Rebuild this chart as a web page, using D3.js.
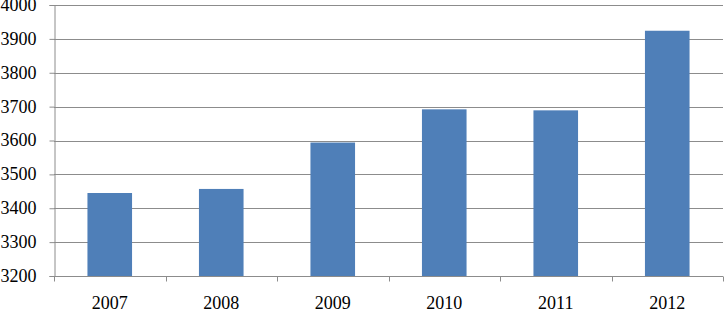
<!DOCTYPE html>
<html><head><meta charset="utf-8">
<script src="https://cdn.jsdelivr.net/npm/d3@7"></script>
<style>body{margin:0;background:#fff}svg{display:block}</style>
</head><body>
<script>
const years = ["2007","2008","2009","2010","2011","2012"];
const values = [3445, 3457, 3594, 3692, 3689, 3924];
const yTicks = [3200,3300,3400,3500,3600,3700,3800,3900,4000];

const W = 725, H = 312;
const m = {left: 54, right: 2, top: 5, bottom: 36};
const svg = d3.select("body").append("svg").attr("width", W).attr("height", H);
const FONT = "'Liberation Serif', 'Times New Roman', serif";

const x = d3.scaleBand().domain(years).range([m.left, W - m.right]).paddingInner(0.6).paddingOuter(0.3);
const y = d3.scaleLinear().domain([3200, 4000]).range([H - m.bottom, m.top]);

// gridlines
svg.append("g").selectAll("line").data(yTicks.slice(1)).join("line")
  .attr("x1", m.left).attr("x2", W - m.right)
  .attr("y1", d => Math.round(y(d)) + 0.5).attr("y2", d => Math.round(y(d)) + 0.5)
  .attr("stroke", "#8c8c8c").attr("stroke-width", 1);

// bars
svg.append("g").selectAll("rect").data(values).join("rect")
  .attr("x", (d, i) => x(years[i]))
  .attr("width", x.bandwidth())
  .attr("y", d => y(d))
  .attr("height", d => y(3200) - y(d))
  .attr("fill", "#4f7fb8");

// y axis
const yAxis = svg.append("g").attr("transform", `translate(${m.left + 0.5},0)`)
  .call(d3.axisLeft(y).tickValues(yTicks).tickSize(5).tickFormat(d3.format("d")));
yAxis.select(".domain").attr("stroke", "#8c8c8c");
yAxis.selectAll(".tick line").attr("stroke", "#8c8c8c");
yAxis.selectAll("text").attr("font-family", FONT)
  .style("font-size", "18px").attr("fill", "#000").attr("x", -18).attr("dy", "0.3em");

// x axis
const boundaries = d3.range(years.length + 1).map(i => m.left + i * ((W - m.right - m.left) / years.length));
const xg = svg.append("g").attr("transform", `translate(0,${Math.round(y(3200)) + 0.5})`);
xg.append("line").attr("x1", m.left).attr("x2", W - m.right).attr("stroke", "#8c8c8c");
xg.selectAll("line.tk").data(boundaries).join("line").attr("class", "tk")
  .attr("x1", d => Math.round(d) + 0.5).attr("x2", d => Math.round(d) + 0.5)
  .attr("y1", 0).attr("y2", 5).attr("stroke", "#8c8c8c");
xg.selectAll("text").data(years).join("text")
  .attr("x", d => x(d) + x.bandwidth() / 2)
  .attr("y", 32)
  .attr("text-anchor", "middle")
  .attr("font-family", FONT)
  .style("font-size", "18px").attr("fill", "#000")
  .text(d => d);
</script>
</body></html>
